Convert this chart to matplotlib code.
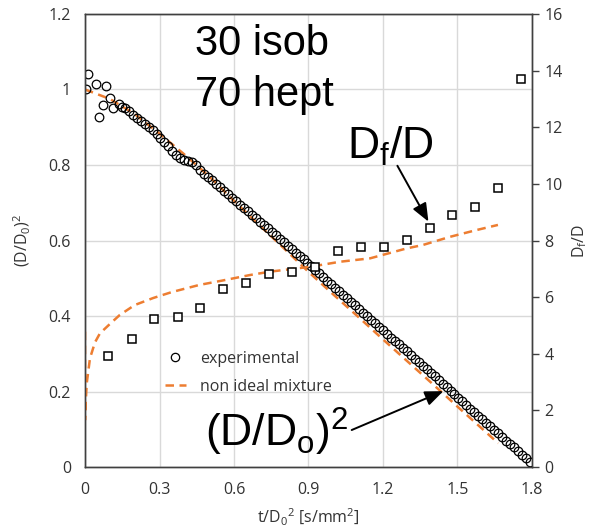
import matplotlib
matplotlib.use("Agg")
import matplotlib.pyplot as plt
from matplotlib.lines import Line2D

plt.rcParams['font.family'] = ['Open Sans', 'DejaVu Sans']
plt.rcParams['mathtext.default'] = 'regular'

# experimental (D/D0)^2 vs t/D0^2
tExp = [0.003, 0.013, 0.043, 0.058, 0.074, 0.083, 0.099, 0.114, 0.138, 0.147,
        0.160, 0.176, 0.192, 0.208, 0.224, 0.240, 0.256, 0.272, 0.288, 0.304,
        0.320, 0.336, 0.352, 0.368, 0.384, 0.400, 0.416, 0.432, 0.448, 0.464,
        0.480, 0.496, 0.512, 0.528, 0.544, 0.560, 0.576, 0.592, 0.608, 0.624,
        0.640, 0.656, 0.672, 0.688, 0.704, 0.720, 0.736, 0.752, 0.768, 0.784,
        0.800, 0.816, 0.832, 0.848, 0.864, 0.880, 0.896, 0.912, 0.928, 0.944,
        0.960, 0.976, 0.992, 1.008, 1.024, 1.040, 1.056, 1.072, 1.088, 1.104,
        1.120, 1.136, 1.152, 1.168, 1.184, 1.200, 1.216, 1.232, 1.248, 1.264,
        1.280, 1.296, 1.312, 1.328, 1.344, 1.360, 1.376, 1.392, 1.408, 1.424,
        1.440, 1.456, 1.472, 1.488, 1.504, 1.520, 1.536, 1.552, 1.568, 1.584,
        1.600, 1.616, 1.632, 1.648, 1.664, 1.680, 1.696, 1.712, 1.728, 1.744,
        1.760, 1.776, 1.792]
dExp = [1.000, 1.041, 1.014, 0.928, 0.959, 1.010, 0.978, 0.950, 0.962, 0.954,
        0.950, 0.942, 0.932, 0.925, 0.917, 0.909, 0.901, 0.892, 0.882, 0.872,
        0.862, 0.851, 0.838, 0.826, 0.818, 0.813, 0.810, 0.809, 0.800, 0.788,
        0.777, 0.768, 0.759, 0.750, 0.741, 0.732, 0.723, 0.713, 0.704, 0.695,
        0.686, 0.677, 0.668, 0.659, 0.650, 0.641, 0.632, 0.623, 0.614, 0.605,
        0.596, 0.586, 0.577, 0.568, 0.559, 0.550, 0.541, 0.532, 0.522, 0.513,
        0.503, 0.494, 0.484, 0.475, 0.466, 0.456, 0.447, 0.437, 0.428, 0.419,
        0.409, 0.400, 0.390, 0.381, 0.371, 0.362, 0.353, 0.343, 0.334, 0.325,
        0.315, 0.306, 0.296, 0.287, 0.277, 0.268, 0.259, 0.249, 0.240, 0.230,
        0.221, 0.212, 0.202, 0.193, 0.183, 0.174, 0.165, 0.155, 0.146, 0.136,
        0.127, 0.117, 0.108, 0.099, 0.089, 0.080, 0.070, 0.061, 0.052, 0.042,
        0.033, 0.023, 0.014]

# non ideal mixture model, (D/D0)^2
tMod = [0.0, 0.1, 0.2, 0.3, 0.4, 0.5, 0.6, 0.7, 0.8, 0.9, 1.0, 1.1, 1.2,
        1.3, 1.4, 1.5, 1.6, 1.664]
dMod = [1.000, 0.975, 0.935, 0.883, 0.828, 0.770, 0.705, 0.642, 0.580,
        0.517, 0.457, 0.398, 0.338, 0.279, 0.220, 0.160, 0.101, 0.063]

# Df/D experimental
tRatio = [0.093, 0.189, 0.278, 0.374, 0.463, 0.557, 0.649, 0.740, 0.834,
          0.926, 1.018, 1.110, 1.205, 1.296, 1.389, 1.478, 1.571, 1.663, 1.756]
ratio = [3.92, 4.52, 5.23, 5.30, 5.62, 6.29, 6.50, 6.82, 6.89, 7.05, 7.63,
         7.77, 7.77, 8.02, 8.44, 8.90, 9.18, 9.85, 13.7]

# Df/D model
tRatioMod = [0.0, 0.0, 0.003, 0.007, 0.02, 0.04, 0.06, 0.1, 0.14, 0.2, 0.275,
             0.35, 0.46, 0.55, 0.664, 0.745, 0.906, 1.027, 1.148, 1.295, 1.36,
             1.47, 1.577, 1.663]
ratioMod = [4.78, 1.66, 2.30, 2.96, 3.84, 4.40, 4.72, 5.05, 5.37, 5.72, 5.97,
            6.18, 6.43, 6.58, 6.78, 6.90, 7.07, 7.25, 7.37, 7.72, 7.84, 8.13,
            8.37, 8.55]

xTicks = [0, 0.3, 0.6, 0.9, 1.2, 1.5, 1.8]
xLabels = ["0", "0.3", "0.6", "0.9", "1.2", "1.5", "1.8"]
yTicks = [0, 0.2, 0.4, 0.6, 0.8, 1.0, 1.2]
yLabels = ["0", "0.2", "0.4", "0.6", "0.8", "1", "1.2"]
y2Ticks = [0, 2, 4, 6, 8, 10, 12, 14, 16]

orange = "#ED7D31"
spine = "#404040"
tickCol = "#333333"
fs = 11.5
dash = (3.4, 2.2)

fig = plt.figure(figsize=(5.92, 5.28), dpi=100)
ax = fig.add_axes([0.1436, 0.1155, 0.755, 0.858])
ax2 = ax.twinx()

ax.plot(tMod, dMod, "--", color=orange, lw=1.8, dashes=dash, zorder=2)
ax.plot(tExp, dExp, "o", mfc="none", mec="black", ms=6.2, mew=0.9, zorder=3)

ax2.plot(tRatioMod, ratioMod, "--", color=orange, lw=1.8, dashes=dash)
ax2.plot(tRatio, ratio, "s", mfc="white", mec="black", ms=5.2, mew=1.1)

ax.set_xlim(0, 1.8)
ax.set_ylim(0, 1.2)
ax2.set_ylim(0, 16)

ax.set_xticks(xTicks, xLabels)
ax.set_yticks(yTicks, yLabels)
ax2.set_yticks(y2Ticks, [str(v) for v in y2Ticks])

ax.grid(True, color="#d9d9d9", lw=1)
ax.set_axisbelow(True)
ax.tick_params(axis="both", length=0, labelsize=fs, colors=tickCol)
ax.tick_params(axis="y", pad=10)
ax.tick_params(axis="x", pad=11)
ax2.tick_params(axis="y", length=5, width=1, color=spine, direction="out",
                labelsize=fs, labelcolor=tickCol, pad=4)

for a in (ax, ax2):
    for s in a.spines.values():
        s.set_color(spine)
        s.set_linewidth(1)

ax.set_xlabel("t/D$_0$$^2$ [s/mm$^2$]", fontsize=fs, color=tickCol,
              va="center")
ax.set_ylabel("(D/D$_0$)$^2$", fontsize=fs, color=tickCol, va="center")
ax2.set_ylabel("D$_f$/D", fontsize=fs, color=tickCol, va="center")
ax.xaxis.set_label_coords(0.5, -0.112)
ax.yaxis.set_label_coords(-0.14, 0.5)
ax2.yaxis.set_label_coords(1.107, 0.5)

big = ["Liberation Sans", "DejaVu Sans"]
ax2.text(0.443, 1.091, "30 isob", transform=ax.transData, fontsize=30,
         family=big, va="baseline")
ax2.text(0.443, 0.956, "70 hept", transform=ax.transData, fontsize=30,
         family=big, va="baseline")
ax2.text(1.054, 0.816, "D$_f$/D", transform=ax.transData, fontsize=32,
         family=big, va="baseline")
ax2.text(0.483, 0.053, "(D/D$_o$)$^2$", transform=ax.transData, fontsize=32,
         family=big, va="baseline")

arrow = dict(arrowstyle="-|>,head_length=1.1,head_width=0.45", color="black",
             lw=1.4, shrinkA=0, shrinkB=0)
ax2.annotate("", xy=(1.383, 0.650), xytext=(1.258, 0.798),
             xycoords=ax.transData, textcoords=ax.transData, arrowprops=arrow)
ax2.annotate("", xy=(1.443, 0.201), xytext=(1.074, 0.098),
             xycoords=ax.transData, textcoords=ax.transData, arrowprops=arrow)

handles = [Line2D([], [], ls="none", marker="o", mfc="none", mec="black",
                  ms=6, mew=0.9),
           Line2D([], [], ls="--", color=orange, lw=1.8, dashes=dash)]
leg = ax2.legend(handles, ["experimental", "non ideal mixture"],
                 loc="upper left", bbox_to_anchor=(0.147, 0.288),
                 frameon=False, fontsize=fs, handlelength=1.3,
                 handletextpad=0.9, labelspacing=0.75)
for t in leg.get_texts():
    t.set_color(tickCol)

fig.savefig("out.png", dpi=100)
